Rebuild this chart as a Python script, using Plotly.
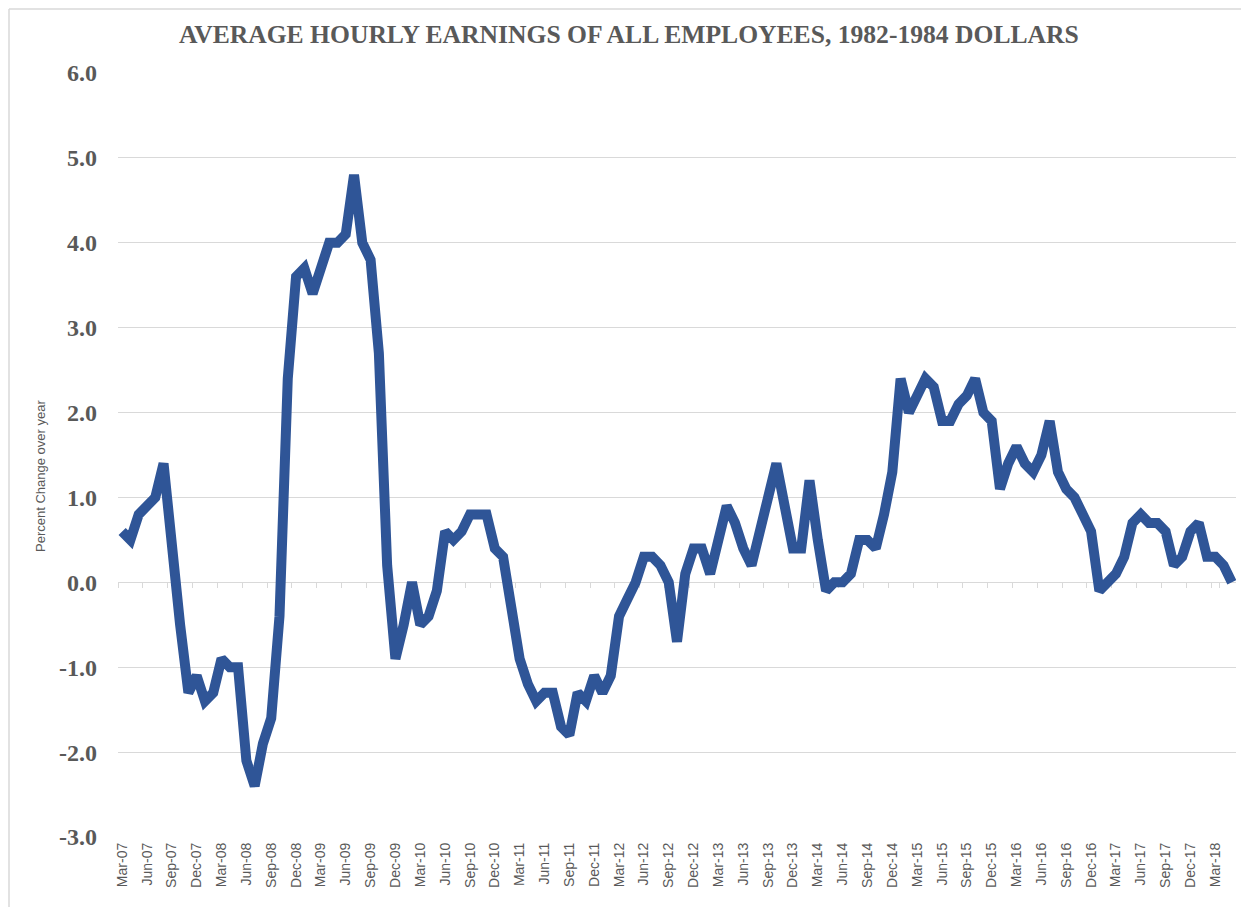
import pandas as pd
import plotly.graph_objects as go

# ---- data (percent change over year, monthly, Mar-2007 .. May-2018) ----
v2007 = [0.6, 0.5, 0.8, 0.9, 1.0, 1.4, 0.3, -0.5, -1.3, -1.1]          # Mar-Dec
v2008 = [-1.4, -1.3, -0.9, -1.0, -1.0, -2.1, -2.4, -1.9, -1.6, -0.4, 2.4, 3.6]
v2009 = [3.7, 3.4, 3.7, 4.0, 4.0, 4.1, 4.8, 4.0, 3.8, 2.7, 0.2, -0.9]
v2010 = [-0.5, 0.0, -0.5, -0.4, -0.1, 0.6, 0.5, 0.6, 0.8, 0.8, 0.8, 0.4]
v2011 = [0.3, -0.3, -0.9, -1.2, -1.4, -1.3, -1.3, -1.7, -1.8, -1.3, -1.4, -1.1]
v2012 = [-1.3, -1.1, -0.4, -0.2, 0.0, 0.3, 0.3, 0.2, 0.0, -0.7, 0.1, 0.4]
v2013 = [0.4, 0.1, 0.5, 0.9, 0.7, 0.4, 0.2, 0.6, 1.0, 1.4, 0.9, 0.4]
v2014 = [0.4, 1.2, 0.5, -0.1, 0.0, 0.0, 0.1, 0.5, 0.5, 0.4, 0.8, 1.3]
v2015 = [2.4, 2.0, 2.2, 2.4, 2.3, 1.9, 1.9, 2.1, 2.2, 2.4, 2.0, 1.9]
v2016 = [1.1, 1.4, 1.6, 1.4, 1.3, 1.5, 1.9, 1.3, 1.1, 1.0, 0.8, 0.6]
v2017 = [-0.1, 0.0, 0.1, 0.3, 0.7, 0.8, 0.7, 0.7, 0.6, 0.2, 0.3, 0.6]
v2018 = [0.7, 0.3, 0.3, 0.2, 0.0]                                      # Jan-May

values = v2007 + v2008 + v2009 + v2010 + v2011 + v2012 + v2013 + v2014 + v2015 + v2016 + v2017 + v2018

months = [d.strftime("%b-%y") for d in pd.date_range("2007-03-01", periods=len(values), freq="MS")]
tick_months = months[::3]

y_tickvals = [-3, -2, -1, 0, 1, 2, 3, 4, 5, 6]
y_ticktext = ["-3.0", "-2.0", "-1.0", "0.0", "1.0", "2.0", "3.0", "4.0", "5.0", "6.0"]

title_text = "AVERAGE HOURLY EARNINGS OF ALL EMPLOYEES, 1982-1984 DOLLARS"
y_title = "Percent Change over year"

GRAY = "#595959"
GRID = "#d9d9d9"
LINE = "#2F5597"

# the page places the figure 8 px in from the top-left corner
W, H = 1241, 899
L, R, T, B = 110, 13, 65, 70
Y_MIN, Y_MAX = -3, 6
PW, PH = W - L - R, H - T - B

fig = go.Figure()

# invisible trace to carry the axis that sits on the zero line
fig.add_trace(go.Scatter(x=months, y=values, xaxis="x2", mode="lines",
                         line=dict(width=0, color="rgba(0,0,0,0)"),
                         hoverinfo="skip", showlegend=False))

fig.add_trace(go.Scatter(x=months, y=values, mode="lines",
                         line=dict(color=LINE, width=10),
                         showlegend=False))

ncat = len(months)
fig.update_layout(
    width=W, height=H,
    margin=dict(l=L, r=R, t=T, b=B),
    paper_bgcolor="white", plot_bgcolor="white",
    annotations=[
        dict(text="<b>" + title_text + "</b>", xref="paper", yref="paper",
             x=(621 - L) / PW, y=1 + (T - 26) / PH, xanchor="center", yanchor="middle",
             showarrow=False,
             font=dict(family="Liberation Serif", size=25.6, color=GRAY)),
        dict(text=y_title, textangle=-90, xref="paper", yref="paper",
             x=(32 - L) / PW, y=(H - B - 468) / PH,
             xanchor="center", yanchor="middle", showarrow=False,
             font=dict(family="Liberation Sans", size=13, color=GRAY)),
    ],
    xaxis=dict(type="category", categoryorder="array", categoryarray=months,
               range=[-0.5, ncat - 0.5],
               tickmode="array", tickvals=tick_months, ticktext=tick_months,
               tickangle=-90, ticks="", showgrid=False, showline=False, zeroline=False,
               ticklabelstandoff=2,
               tickfont=dict(family="Liberation Sans", size=14, color=GRAY)),
    xaxis2=dict(type="category", categoryorder="array", categoryarray=months,
                overlaying="x", anchor="free",
                position=(0 - Y_MIN) / (Y_MAX - Y_MIN),
                range=[-0.5, ncat - 0.5],
                tickmode="array", tickvals=tick_months, tickson="boundaries",
                ticks="outside", ticklen=5, tickcolor=GRID, tickwidth=1,
                showticklabels=False, showgrid=False, zeroline=False,
                showline=True, linecolor=GRID, linewidth=1.3,
                layer="below traces"),
    yaxis=dict(range=[Y_MIN, Y_MAX], tickmode="array", tickvals=y_tickvals,
               ticktext=["<b>" + t + "</b>" for t in y_ticktext],
               showgrid=True, gridcolor=GRID, gridwidth=1, zeroline=False,
               showline=False, ticks="", ticklabelstandoff=20,
               tickfont=dict(family="Liberation Serif", size=24, color=GRAY)),
    shapes=[
        dict(type="line", xref="paper", yref="paper",
             x0=(1 - L) / PW, x1=(1 - L) / PW,
             y0=-B / PH, y1=1 + (T - 1) / PH,
             line=dict(color=GRID, width=1.5)),
        dict(type="line", xref="paper", yref="paper",
             x0=(1 - L) / PW, x1=1 + R / PW,
             y0=1 + (T - 1) / PH, y1=1 + (T - 1) / PH,
             line=dict(color=GRID, width=1.5)),
    ],
)

fig.write_html("out.html")
